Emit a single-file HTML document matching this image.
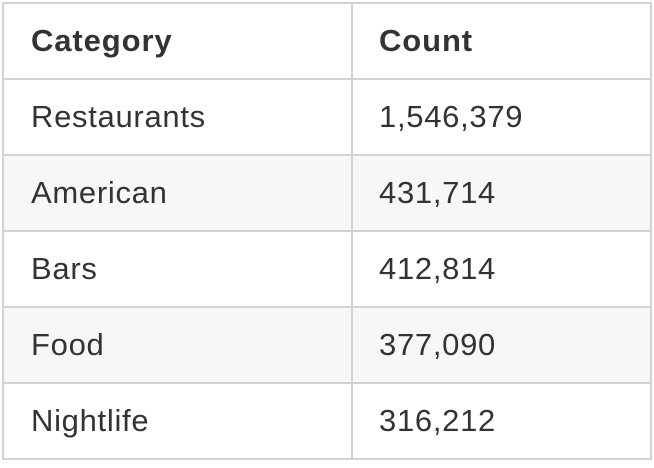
<!DOCTYPE html>
<html><head><meta charset="utf-8"><style>
body{margin:0;width:654px;height:468px;background:#fff;position:relative;font-family:"Liberation Sans",sans-serif;color:#333;overflow:hidden}
.r{position:absolute;left:3px;width:648px;height:76px;border-top:2px solid #d2d2d2;box-sizing:border-box}
.c{position:absolute;top:0;height:74px;line-height:74px;font-size:31px;white-space:nowrap;letter-spacing:0.7px}
.a{left:28px}.b{left:376px}
.h .c{font-weight:bold;letter-spacing:0.9px}
.z{background:#f7f7f7}
#frame{position:absolute;left:2px;top:2px;width:650px;height:458px;border:2px solid #d2d2d2;box-sizing:border-box;pointer-events:none}
#vl{position:absolute;left:351px;top:2px;width:2px;height:458px;background:#d2d2d2}
</style></head><body>
<div class="r h" style="top:2px"><div class="c a">Category</div><div class="c b">Count</div></div>
<div class="r" style="top:78px"><div class="c a">Restaurants</div><div class="c b">1,546,379</div></div>
<div class="r z" style="top:154px"><div class="c a">American</div><div class="c b">431,714</div></div>
<div class="r" style="top:230px"><div class="c a">Bars</div><div class="c b">412,814</div></div>
<div class="r z" style="top:306px"><div class="c a">Food</div><div class="c b">377,090</div></div>
<div class="r" style="top:382px"><div class="c a">Nightlife</div><div class="c b">316,212</div></div>
<div id="vl"></div>
<div id="frame"></div>
</body></html>
